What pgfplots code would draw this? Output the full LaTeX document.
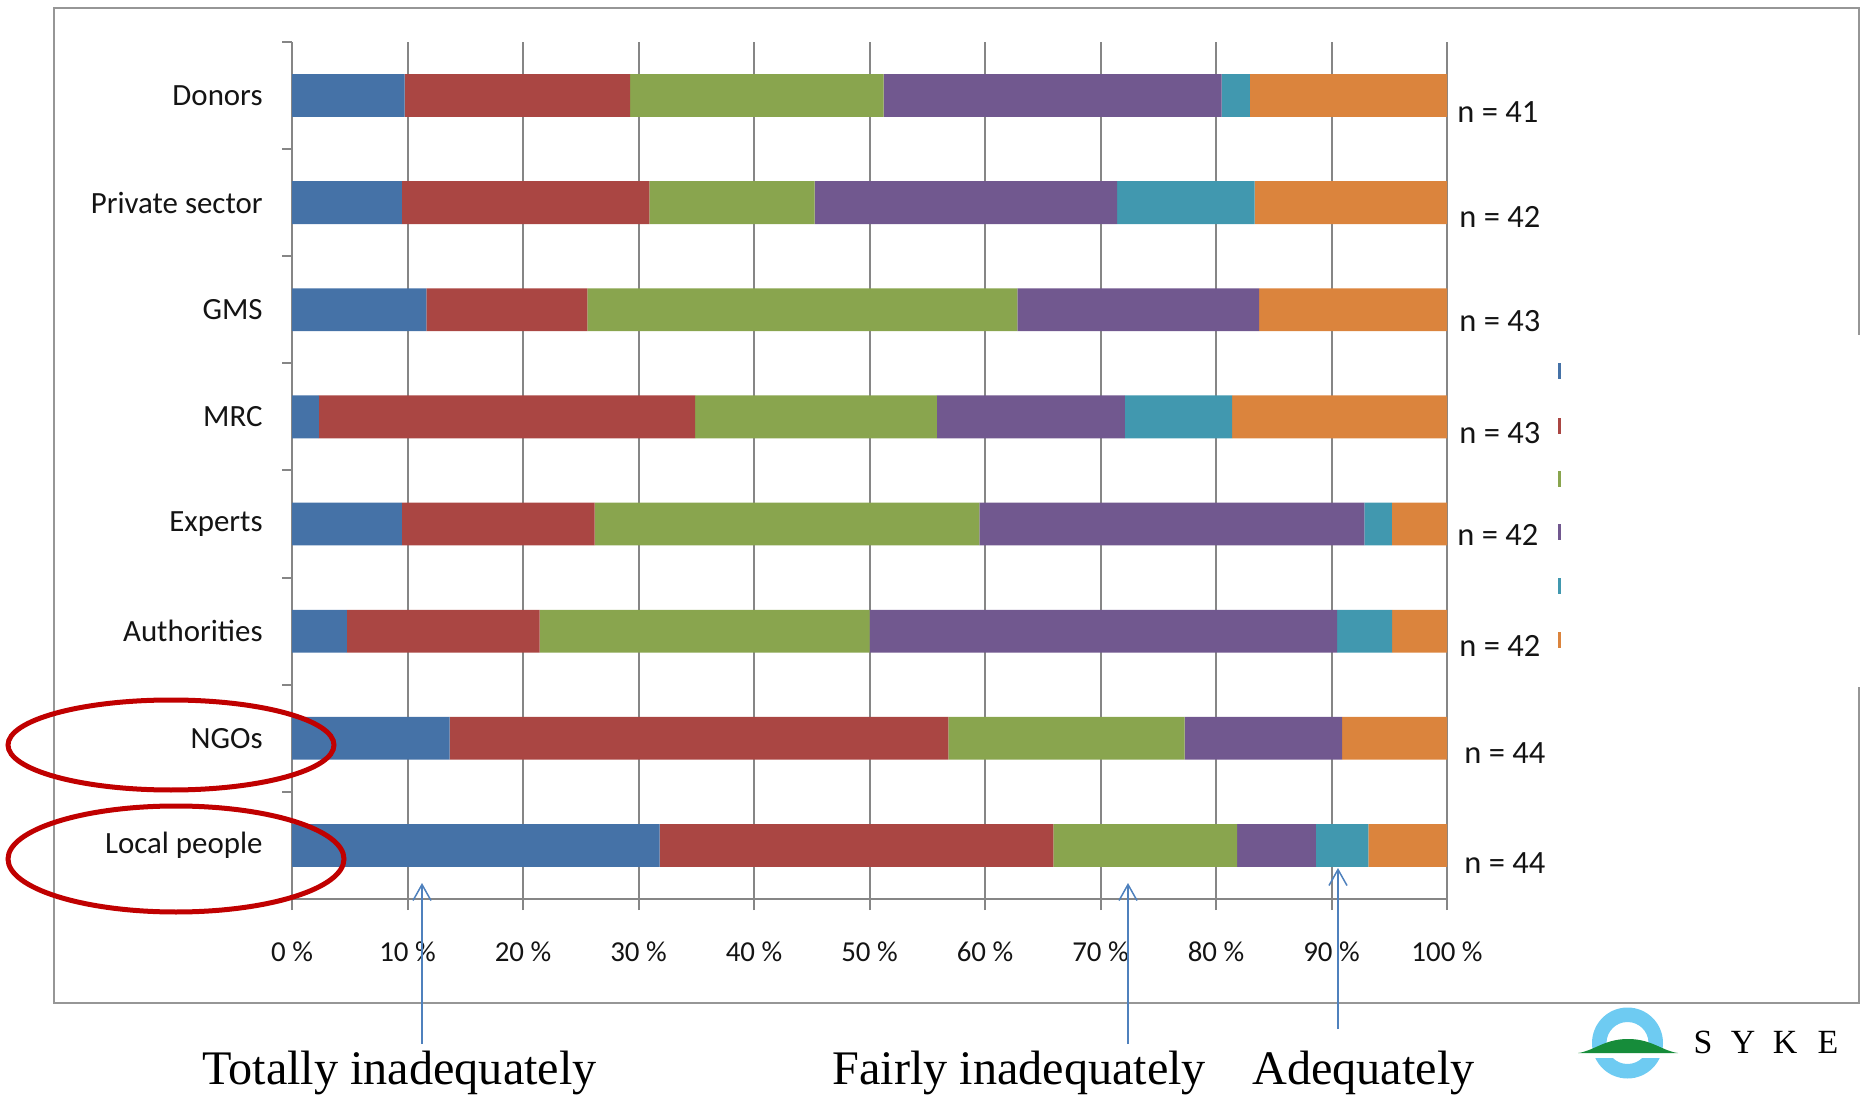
\documentclass[border=0pt]{standalone}
\usepackage{pgfplots}
\pgfplotsset{compat=1.18}
\usepackage{pgfplotstable}
\usepackage{fontspec}
\setmainfont{Carlito}
\newfontfamily\serifx{Liberation Serif}
\usetikzlibrary{arrows.meta}
\definecolor{barblue}{RGB}{69,114,167}
\definecolor{barred}{RGB}{170,70,67}
\definecolor{bargreen}{RGB}{137,165,78}
\definecolor{barpurple}{RGB}{113,88,143}
\definecolor{barteal}{RGB}{65,152,175}
\definecolor{barorange}{RGB}{219,132,61}
\definecolor{axisgray}{RGB}{134,134,134}
\definecolor{framegray}{RGB}{150,150,150}
\definecolor{ellred}{RGB}{192,0,0}
\definecolor{arrowblue}{RGB}{79,129,189}
\definecolor{ringblue}{RGB}{110,203,242}
\definecolor{hillgreen}{RGB}{22,140,58}
\definecolor{txt}{RGB}{20,20,20}

% rows: 0 Local people ... 7 Donors (percent of respondents)
\pgfplotstableread{
y blue red green purple teal orange
0 31.82 34.09 15.91 6.82 4.55 6.81
1 13.64 43.18 20.45 13.64 0 9.09
2 4.76 16.67 28.57 40.48 4.76 4.76
3 9.52 16.67 33.33 33.33 2.38 4.77
4 2.33 32.56 20.93 16.28 9.30 18.60
5 11.63 13.95 37.21 20.93 0 16.28
6 9.52 21.43 14.29 26.19 11.90 16.67
7 9.76 19.51 21.95 29.27 2.44 17.07
}\datatable

\begin{document}
\begin{tikzpicture}
\begin{axis}[
  at={(146bp,98.5bp)}, anchor=south west,
  scale only axis, width=577.5bp, height=428.5bp,
  xbar stacked, bar width=0.4,
  xmin=0, xmax=100, ymin=-0.5, ymax=7.5,
  axis x line*=bottom, axis y line*=left,
  axis line style={draw=axisgray, line width=1bp},
  xtick={0,10,...,100},
  xticklabels={0~\%,10~\%,20~\%,30~\%,40~\%,50~\%,60~\%,70~\%,80~\%,90~\%,100~\%},
  xmajorgrids,
  grid style={draw=axisgray, line width=1bp},
  ytick={0,...,7},
  yticklabels={Local people,NGOs,Authorities,Experts,MRC,GMS,Private sector,Donors},
  minor ytick={-0.5,0.5,...,7.5},
  tick align=outside,
  major tick length=5.5bp, minor tick length=5bp,
  tick style={draw=axisgray, line width=1bp},
  major y tick style={draw=none},
  xticklabel style={font=\fontsize{14.5}{16}\selectfont, text=txt, anchor=center, inner sep=0pt, yshift=-21bp},
  yticklabel style={font=\fontsize{15.5}{17}\selectfont, text=txt, anchor=east, inner sep=0pt, xshift=-9bp},
]
\addplot[fill=barblue, draw=none] table[x=blue, y=y] \datatable;
\addplot[fill=barred, draw=none] table[x=red, y=y] \datatable;
\addplot[fill=bargreen, draw=none] table[x=green, y=y] \datatable;
\addplot[fill=barpurple, draw=none] table[x=purple, y=y] \datatable;
\addplot[fill=barteal, draw=none] table[x=teal, y=y] \datatable;
\addplot[fill=barorange, draw=none] table[x=orange, y=y] \datatable;
\end{axis}

\begin{scope}[x=0.5bp,y=0.5bp]
\path[use as bounding box] (0,0) rectangle (1865,1096);
% outer frame (right side partly hidden)
\draw[framegray, line width=1.25bp] (1859,409) -- (1859,93) -- (54,93) -- (54,1088) -- (1859,1088) -- (1859,761);

% sample sizes
\begin{scope}[every node/.style={anchor=base west, inner sep=0pt, text=txt, font=\fontsize{16.3}{18}\selectfont}]
\node at (1457,973) {n = 41};
\node at (1459,868) {n = 42};
\node at (1459,764) {n = 43};
\node at (1459,652) {n = 43};
\node at (1457,550) {n = 42};
\node at (1459,440) {n = 42};
\node at (1464,333) {n = 44};
\node at (1464,223) {n = 44};
\end{scope}

% remnants of legend keys
\fill[barblue]   (1558,717) rectangle (1561,733);
\fill[barred]    (1558,662) rectangle (1561,678);
\fill[bargreen]  (1558,609) rectangle (1561,625);
\fill[barpurple] (1558,556) rectangle (1561,572);
\fill[barteal]   (1558,502) rectangle (1561,518);
\fill[barorange] (1558,448) rectangle (1561,464);

% red ellipses
\draw[ellred, line width=2.5bp] (171,351) ellipse [x radius=163, y radius=45];
\draw[ellred, line width=2.5bp] (176,237) ellipse [x radius=168, y radius=53];

% arrows
\begin{scope}[arrowblue, line width=0.75bp, -{Straight Barb[length=8bp,width=9bp]}]
\draw (422,52) -- (422,213);
\draw (1128,52) -- (1128,213);
\draw (1338,67) -- (1338,228);
\end{scope}

% bottom labels
\begin{scope}[every node/.style={anchor=base west, inner sep=0pt, font=\serifx\fontsize{24.2}{26}\selectfont}]
\node at (202,12) {Totally inadequately};
\node at (832,12) {Fairly inadequately};
\node at (1252,12) {Adequately};
\end{scope}

% SYKE logo
\fill[ringblue, even odd rule] (1627.5,53) circle[radius=35.5] (1627.5,53) circle[radius=21];
\fill[white] (1586,38) rectangle (1670,43);
\fill[hillgreen] (1578,43) -- (1678,43) .. controls (1662,45) and (1652,57) .. (1628,57) .. controls (1604,57) and (1594,45) .. (1578,43) -- cycle;
\begin{scope}[every node/.style={anchor=base, inner sep=0pt, font=\serifx\fontsize{17}{18}\selectfont}]
\node at (1703,43) {S};
\node at (1743,43) {Y};
\node at (1785,43) {K};
\node at (1828,43) {E};
\end{scope}
\end{scope}
\end{tikzpicture}
\end{document}
